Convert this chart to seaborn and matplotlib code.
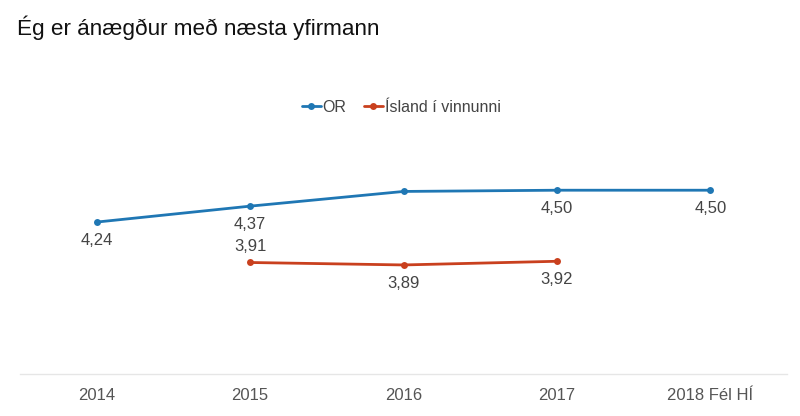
import numpy as np
import pandas as pd
import matplotlib
matplotlib.use("Agg")
import matplotlib.pyplot as plt
import seaborn as sns

# chart data
years = ["2014", "2015", "2016", "2017", "2018 Fél HÍ"]
or_values = [4.24, 4.37, 4.49, 4.50, 4.50]
island_values = [np.nan, 3.91, 3.89, 3.92, np.nan]
series_names = ["OR", "Ísland í vinnunni"]
colors = ["#1f77b4", "#c9401e"]
# where the value label goes: -1 below, 1 above, 0 no label
or_label_side = [-1, -1, 0, -1, -1]
island_label_side = [0, 1, -1, -1, 0]

sns.set_theme(style="white")
plt.rcParams["font.family"] = ["Liberation Sans", "DejaVu Sans"]

# long table for seaborn
rows = []
for name, vals in zip(series_names, [or_values, island_values]):
    for i, v in enumerate(vals):
        rows.append({"pos": i, "value": v, "series": name})
df = pd.DataFrame(rows).dropna()

fig = plt.figure(figsize=(8, 4.16), dpi=100)
ax = fig.add_axes([0.025, 0.101, 0.959, 0.589])

sns.lineplot(data=df, x="pos", y="value", hue="series", hue_order=series_names,
             palette=colors, marker="o", markersize=5, markeredgewidth=0,
             linewidth=2, ax=ax)

# value labels
for vals, sides in [(or_values, or_label_side), (island_values, island_label_side)]:
    for i, (v, s) in enumerate(zip(vals, sides)):
        if s == 0 or np.isnan(v):
            continue
        off = 13 if s < 0 else 11.5
        ax.annotate(f"{v:.2f}".replace(".", ","), (i, v), xytext=(0, off * s),
                    textcoords="offset points", ha="center", va="center",
                    fontsize=12, color="#444444")

ax.set_xlim(-0.5, len(years) - 0.5)
ax.set_ylim(3, 5)
ax.set_xticks(range(len(years)))
ax.set_xticklabels(years, fontsize=12, color="#555555")
ax.set_yticks([])
ax.set_xlabel("")
ax.set_ylabel("")
ax.tick_params(axis="x", length=0, pad=10)
for side in ["top", "left", "right"]:
    ax.spines[side].set_visible(False)
ax.spines["bottom"].set_color("#e6e6e6")
ax.spines["bottom"].set_linewidth(1)

handles, labels = ax.get_legend_handles_labels()
ax.legend(handles, labels, ncol=2, loc="center", bbox_to_anchor=(401 / 800, 1 - 107 / 416),
          bbox_transform=fig.transFigure, frameon=False, fontsize=11.5,
          handlelength=1.2, handletextpad=0.1, columnspacing=1.1,
          labelcolor="#444444")

fig.text(17 / 800, 1 - 28 / 416, "Ég er ánægður með næsta yfirmann",
         fontsize=16.2, color="#111111", ha="left", va="center")

fig.savefig("out.png", dpi=100)
